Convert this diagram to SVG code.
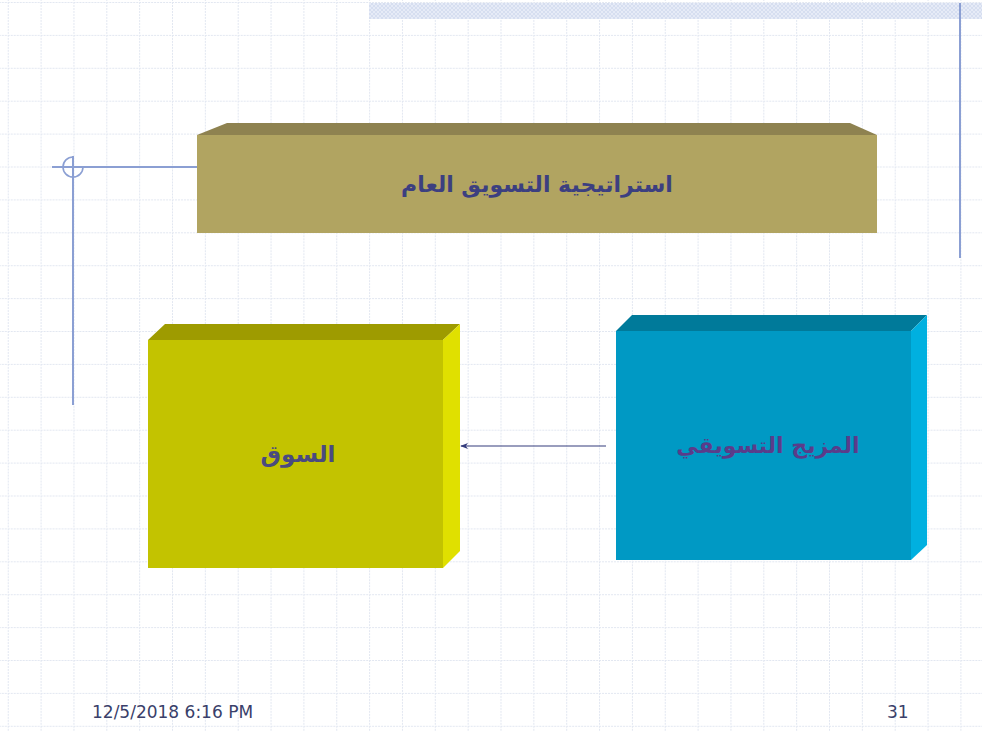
<svg xmlns="http://www.w3.org/2000/svg" width="982" height="731" viewBox="0 0 982 731">
  <defs>
    <pattern id="grid" patternUnits="userSpaceOnUse" x="7.75" y="2" width="32.85" height="32.9">
      <path d="M0.5 0 V32.9 M0 0.5 H32.85" fill="none" stroke="#e2e7f1" stroke-width="1" stroke-dasharray="2 1"/>
    </pattern>
    <pattern id="hatch" patternUnits="userSpaceOnUse" width="4" height="4">
      <rect width="4" height="4" fill="#e6ebf7"/>
      <path d="M0 0 L4 4 M4 0 L0 4" stroke="#d2dbef" stroke-width="0.8"/>
    </pattern>
    <marker id="arrow" viewBox="0 0 10 10" refX="9" refY="5" markerWidth="8" markerHeight="8" orient="auto" markerUnits="userSpaceOnUse">
      <path d="M0 1 L10 5 L0 9 L3 5 Z" fill="#343c7c"/>
    </marker>
    <style>
      .label { font-family: "DejaVu Sans", sans-serif; font-weight: bold; text-anchor: middle; direction: rtl; }
      .foot { font-family: "DejaVu Sans", Verdana, sans-serif; font-size: 17px; fill: #3a3f6a; }
      .deco { stroke: #8b9fd3; fill: none; }
    </style>
  </defs>

  <!-- background with dotted grid -->
  <rect width="982" height="731" fill="#ffffff"/>
  <rect width="982" height="731" fill="url(#grid)"/>

  <!-- top hatched band and decorative lines -->
  <rect x="369" y="3" width="613" height="16" fill="url(#hatch)"/>
  <line class="deco" x1="960" y1="3" x2="960" y2="258" stroke-width="2"/>
  <line class="deco" x1="52" y1="167" x2="197" y2="167" stroke-width="2"/>
  <line class="deco" x1="73" y1="156" x2="73" y2="405" stroke-width="2"/>
  <path class="deco" d="M73 157 A10 10 0 1 0 83 167" stroke-width="1.6"/>

  <!-- title block -->
  <g id="strategy">
    <polygon points="197,135 227,123 850,123 877,135" fill="#8e8250"/>
    <rect x="197" y="135" width="680" height="98" fill="#b1a461"/>
    <text class="label" x="537" y="192" font-size="22" fill="#3c3f80">استراتيجية التسويق العام</text>
  </g>

  <!-- market block -->
  <g id="market">
    <polygon points="148,340 165,324 460,324 443,340" fill="#9e9b00"/>
    <polygon points="443,340 460,324 460,551 443,568" fill="#e0e000"/>
    <rect x="148" y="340" width="295" height="228" fill="#c3c300"/>
    <text class="label" x="298" y="462" font-size="23" fill="#4a4a80">السوق</text>
  </g>

  <!-- marketing mix block -->
  <g id="mix">
    <polygon points="616,331 632,315 927,315 911,331" fill="#007a9a"/>
    <polygon points="911,331 927,315 927,545 911,560" fill="#00b0e0"/>
    <rect x="616" y="331" width="295" height="229" fill="#0099c4"/>
    <text class="label" x="768" y="453" font-size="22" fill="#5a3c8a">المزيج التسويقي</text>
  </g>

  <!-- connectors -->
  <g id="connectors">
    <line x1="606" y1="446" x2="461" y2="446" stroke="#343c7c" stroke-width="1.2" marker-end="url(#arrow)"/>
  </g>

  <!-- footer -->
  <text class="foot" x="92" y="718">12/5/2018 6:16 PM</text>
  <text class="foot" x="887" y="718">31</text>
</svg>
